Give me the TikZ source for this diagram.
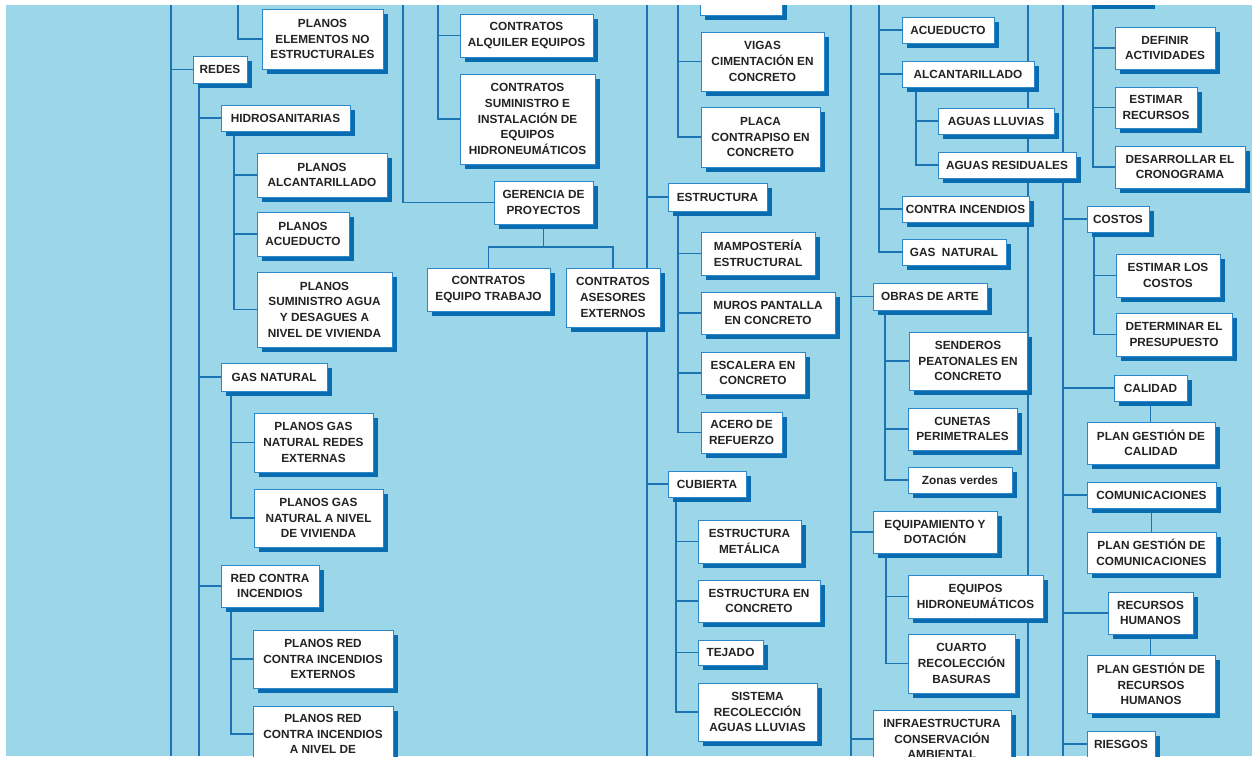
\documentclass[tikz,border=0pt]{standalone}
\usepackage{fontspec}
\setmainfont{Liberation Sans}
\usetikzlibrary{shadows}
\definecolor{bgblue}{RGB}{155,215,232}
\definecolor{linkblue}{RGB}{28,116,178}
\definecolor{shadeblue}{RGB}{10,108,176}
\definecolor{edgeblue}{RGB}{45,135,200}
\definecolor{ink}{RGB}{35,35,35}
\pgfdeclarelayer{wires}
\pgfsetlayers{wires,main}
% box given by its left, top, right and bottom edges
\newcommand{\wbsbox}[6]{\node[wbs, minimum width={(#4-#2)*1pt}, minimum height={(#5-#3)*1pt}] (#1) at ({(#2+#4)/2},{(#3+#5)/2}) {#6};}

\begin{document}
\begin{tikzpicture}[x=1pt,y=-1pt,
  wbs/.style={draw=edgeblue, line width=0.8pt, fill=white, text=ink,
    font=\fontsize{11.8}{15.6}\selectfont\bfseries, align=center, inner sep=0pt,
    drop shadow={shadow xshift=4.5pt, shadow yshift=-4.5pt, fill=shadeblue, opacity=1}},
  link/.style={draw=linkblue, line width=1.2pt}]
\useasboundingbox (0,0) rectangle (1252,756);
\begin{pgfonlayer}{wires}
  \fill[bgblue] (0,0) rectangle (1252,756);
\end{pgfonlayer}

% ---- design and networks column
\wbsbox{pene}{262}{9}{383}{69}{PLANOS\\ELEMENTOS NO\\ESTRUCTURALES}
\wbsbox{redes}{193}{56}{247}{83}{REDES}
\wbsbox{hidro}{221}{105}{350}{131}{HIDROSANITARIAS}
\wbsbox{palc}{257}{153}{387}{197}{PLANOS\\ALCANTARILLADO}
\wbsbox{pacu}{257}{212}{349}{256}{PLANOS\\ACUEDUCTO}
\wbsbox{psum}{257}{272}{392}{347}{PLANOS\\SUMINISTRO AGUA\\Y DESAGUES A\\NIVEL DE VIVIENDA}
\wbsbox{gasn}{221}{363}{327}{391}{GAS NATURAL}
\wbsbox{pgre}{254}{413}{373}{472}{PLANOS GAS\\NATURAL REDES\\EXTERNAS}
\wbsbox{pgviv}{254}{489}{383}{547}{PLANOS GAS\\NATURAL A NIVEL\\DE VIVIENDA}
\wbsbox{rci}{221}{565}{319}{607}{RED CONTRA\\INCENDIOS}
\wbsbox{prce}{253}{630}{393}{688}{PLANOS RED\\CONTRA INCENDIOS\\EXTERNOS}
\wbsbox{prcv}{253}{706}{393}{762}{PLANOS RED\\CONTRA INCENDIOS\\A NIVEL DE}

% ---- contracts and management
\wbsbox{cae}{460}{14}{593}{57}{CONTRATOS\\ALQUILER EQUIPOS}
\wbsbox{csie}{460}{74}{595}{164}{CONTRATOS\\SUMINISTRO E\\INSTALACIÓN DE\\EQUIPOS\\HIDRONEUMÁTICOS}
\wbsbox{gp}{494}{181}{593}{224}{GERENCIA DE\\PROYECTOS}
\wbsbox{cet}{427}{268}{550}{311}{CONTRATOS\\EQUIPO TRABAJO}
\wbsbox{cas}{566}{268}{660}{327}{CONTRATOS\\ASESORES\\EXTERNOS}

% ---- construction
\wbsbox{topc}{700}{-30}{782}{15}{}
\wbsbox{vigas}{701}{32}{824}{91}{VIGAS\\CIMENTACIÓN EN\\CONCRETO}
\wbsbox{placa}{701}{107}{820}{167}{PLACA\\CONTRAPISO EN\\CONCRETO}
\wbsbox{estr}{668}{183}{767}{211}{ESTRUCTURA}
\wbsbox{mamp}{701}{232}{815}{275}{MAMPOSTERÍA\\ESTRUCTURAL}
\wbsbox{muros}{701}{292}{835}{334}{MUROS PANTALLA\\EN CONCRETO}
\wbsbox{escal}{701}{352}{805}{394}{ESCALERA EN\\CONCRETO}
\wbsbox{acero}{701}{412}{782}{453}{ACERO DE\\REFUERZO}
\wbsbox{cub}{668}{471}{746}{497}{CUBIERTA}
\wbsbox{emet}{698}{520}{801}{563}{ESTRUCTURA\\METÁLICA}
\wbsbox{econ}{698}{580}{820}{622}{ESTRUCTURA EN\\CONCRETO}
\wbsbox{tej}{698}{640}{763}{665}{TEJADO}
\wbsbox{sist}{698}{683}{817}{741}{SISTEMA\\RECOLECCIÓN\\AGUAS LLUVIAS}

% ---- networks, works and equipment
\wbsbox{acu}{902}{17}{994}{43}{ACUEDUCTO}
\wbsbox{alc}{902}{61}{1034}{87}{ALCANTARILLADO}
\wbsbox{all}{938}{108}{1054}{134}{AGUAS LLUVIAS}
\wbsbox{ares}{938}{152}{1076}{178}{AGUAS RESIDUALES}
\wbsbox{cinc}{902}{196}{1029}{222}{CONTRA INCENDIOS}
\wbsbox{gas2}{902}{239}{1006}{265}{GAS~ NATURAL}
\wbsbox{obras}{873}{283}{987}{310}{OBRAS DE ARTE}
\wbsbox{send}{909}{332}{1027}{390}{SENDEROS\\PEATONALES EN\\CONCRETO}
\wbsbox{cun}{908}{408}{1017}{450}{CUNETAS\\PERIMETRALES}
\wbsbox{zonas}{908}{467}{1012}{493}{Zonas verdes}
\wbsbox{equip}{873}{511}{997}{553}{EQUIPAMIENTO Y\\DOTACIÓN}
\wbsbox{ehid}{908}{575}{1043}{618}{EQUIPOS\\HIDRONEUMÁTICOS}
\wbsbox{cuarto}{908}{634}{1015}{693}{CUARTO\\RECOLECCIÓN\\BASURAS}
\wbsbox{infra}{873}{710}{1011}{768}{INFRAESTRUCTURA\\CONSERVACIÓN\\AMBIENTAL}

% ---- project management
\wbsbox{tope}{1087}{-30}{1150}{4}{}
\wbsbox{defact}{1115}{27}{1215}{69}{DEFINIR\\ACTIVIDADES}
\wbsbox{estrec}{1115}{87}{1197}{128}{ESTIMAR\\RECURSOS}
\wbsbox{desc}{1115}{146}{1245}{188}{DESARROLLAR EL\\CRONOGRAMA}
\wbsbox{costos}{1087}{206}{1149}{232}{COSTOS}
\wbsbox{estc}{1116}{254}{1220}{297}{ESTIMAR LOS\\COSTOS}
\wbsbox{detp}{1116}{313}{1232}{356}{DETERMINAR EL\\PRESUPUESTO}
\wbsbox{cal}{1114}{375}{1187}{401}{CALIDAD}
\wbsbox{pgc}{1087}{422}{1215}{464}{PLAN GESTIÓN DE\\CALIDAD}
\wbsbox{com}{1087}{482}{1216}{508}{COMUNICACIONES}
\wbsbox{pgcom}{1087}{532}{1216}{573}{PLAN GESTIÓN DE\\COMUNICACIONES}
\wbsbox{rh}{1108}{592}{1193}{634}{RECURSOS\\HUMANOS}
\wbsbox{pgrh}{1087}{655}{1215}{713}{PLAN GESTIÓN DE\\RECURSOS\\HUMANOS}
\wbsbox{ries}{1087}{731}{1155}{757}{RIESGOS}

% ---- trunk positions
\coordinate (a0t) at (171,0);  \coordinate (a0b) at (171,756);
\coordinate (pet) at (238,0);
\coordinate (rb)  at (199,756);
\coordinate (hx)  at (234,0);
\coordinate (gx)  at (231,0);
\coordinate (gpt) at (403,0);
\coordinate (ct)  at (438,0);
\coordinate (bus) at (543.5,247);
\coordinate (c0t) at (647,0);  \coordinate (c0b) at (647,756);
\coordinate (vt)  at (678,0);
\coordinate (cbx) at (676,0);
\coordinate (d0t) at (851,0);  \coordinate (d0b) at (851,756);
\coordinate (dt)  at (879,0);
\coordinate (ax)  at (916,0);
\coordinate (ox)  at (885,0);
\coordinate (ex)  at (886,0);
\coordinate (d2t) at (1028,0); \coordinate (d2b) at (1028,756);
\coordinate (e0t) at (1063,0); \coordinate (e0b) at (1063,756);
\coordinate (et)  at (1093,0);
\coordinate (kx)  at (1094,0);

\begin{pgfonlayer}{wires}
  \draw[link] (a0t) -- (a0b);
  \draw[link] (redes.west) -- (redes.west -| a0t);
  \draw[link] (pet) |- (pene.west);
  \draw[link] (redes.south -| rb) -- (rb);
  \foreach \n in {hidro,gasn,rci} \draw[link] (\n.west) -- (\n.west -| rb);
  \draw[link] (hidro.south -| hx) |- (psum.west);
  \foreach \n in {palc,pacu} \draw[link] (\n.west) -- (\n.west -| hx);
  \draw[link] (gasn.south -| gx) |- (pgviv.west);
  \draw[link] (pgre.west) -- (pgre.west -| gx);
  \draw[link] (rci.south -| gx) |- (prcv.west);
  \draw[link] (prce.west) -- (prce.west -| gx);

  \draw[link] (gpt) |- (gp.west);
  \draw[link] (ct) |- (csie.west);
  \draw[link] (cae.west) -- (cae.west -| ct);
  \draw[link] (gp.south) -- (gp.south |- bus);
  \draw[link] (cet.north) -- (cet.north |- bus) -- (cas.north |- bus) -- (cas.north);

  \draw[link] (c0t) -- (c0b);
  \foreach \n in {estr,cub} \draw[link] (\n.west) -- (\n.west -| c0t);
  \draw[link] (vt) |- (placa.west);
  \draw[link] (vigas.west) -- (vigas.west -| vt);
  \draw[link] (estr.south -| vt) |- (acero.west);
  \foreach \n in {mamp,muros,escal} \draw[link] (\n.west) -- (\n.west -| vt);
  \draw[link] (cub.south -| cbx) |- (sist.west);
  \foreach \n in {emet,econ,tej} \draw[link] (\n.west) -- (\n.west -| cbx);

  \draw[link] (d0t) -- (d0b);
  \foreach \n in {obras,equip,infra} \draw[link] (\n.west) -- (\n.west -| d0t);
  \draw[link] (dt) |- (gas2.west);
  \foreach \n in {acu,alc,cinc} \draw[link] (\n.west) -- (\n.west -| dt);
  \draw[link] (alc.south -| ax) |- (ares.west);
  \draw[link] (all.west) -- (all.west -| ax);
  \draw[link] (obras.south -| ox) |- (zonas.west);
  \foreach \n in {send,cun} \draw[link] (\n.west) -- (\n.west -| ox);
  \draw[link] (equip.south -| ex) |- (cuarto.west);
  \draw[link] (ehid.west) -- (ehid.west -| ex);
  \draw[link] (d2t) -- (d2b);

  \draw[link] (e0t) -- (e0b);
  \foreach \n in {costos,cal,com,rh,ries} \draw[link] (\n.west) -- (\n.west -| e0t);
  \draw[link] (et) |- (desc.west);
  \foreach \n in {defact,estrec} \draw[link] (\n.west) -- (\n.west -| et);
  \draw[link] (costos.south -| kx) |- (detp.west);
  \draw[link] (estc.west) -- (estc.west -| kx);
  \draw[link] (cal.south) -- (cal.south |- pgc.north);
  \draw[link] (com.south) -- (com.south |- pgcom.north);
  \draw[link] (rh.south) -- (rh.south |- pgrh.north);
\end{pgfonlayer}

% white page margins along the top and left edges
\fill[white] (0,0) rectangle (1252,5);
\fill[white] (0,0) rectangle (6,756);
\end{tikzpicture}
\end{document}
